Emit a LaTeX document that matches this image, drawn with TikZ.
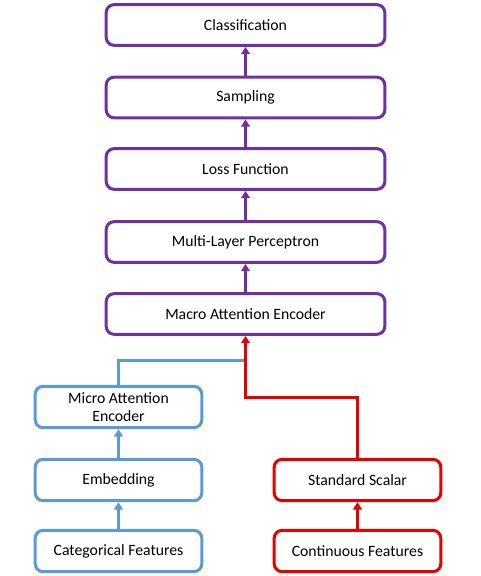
\documentclass[tikz,border=0pt]{standalone}
\usepackage{fontspec}
\setmainfont{Carlito}
\usetikzlibrary{arrows.meta}
\definecolor{purp}{RGB}{112,48,160}
\definecolor{blu}{RGB}{91,155,213}
\definecolor{rd}{RGB}{230,0,0}
\begin{document}
\begin{tikzpicture}[x=0.75pt, y=-0.75pt,
        box/.style = {draw, line width=2.25pt, rounded corners=6pt, fill=white,
            align=center, font=\fontsize{11.8}{14}\selectfont, inner sep=0pt},
        wide/.style = {box, draw=purp, minimum width=209pt, minimum height=30.5pt},
        small/.style = {box, minimum width=125pt, minimum height=31pt},
        link/.style = {line width=2.25pt, -{Triangle[length=5.5pt, width=6.5pt]}}]
        \useasboundingbox (0, 0) rectangle (480, 576);
        % purple column
        \node [wide] (cls) at (245.5, 25) {Classification};
        \node [wide] (smp) at (245.5, 97.5) {Sampling};
        \node [wide] (loss) at (245.5, 169) {Loss Function};
        \node [wide] (mlp) at (245.5, 242) {Multi-Layer Perceptron};
        \node [wide] (macro) at (245.5, 314) {Macro Attention Encoder};
        % blue column
        \node [small, draw=blu] (micro) at (118.5, 407) {Micro Attention\\Encoder};
        \node [small, draw=blu] (emb) at (118.5, 480) {Embedding};
        \node [small, draw=blu] (cat) at (118.5, 551) {Categorical Features};
        % red column
        \node [small, draw=rd] (scal) at (357.5, 480) {Standard Scalar};
        \node [small, draw=rd] (cont) at (357.5, 551) {Continuous Features};
        \coordinate (join) at (245.5, 360);
        \coordinate (bend) at (245.5, 397);
        \draw [link, purp] (smp) -- (cls);
        \draw [link, purp] (loss) -- (smp);
        \draw [link, purp] (mlp) -- (loss);
        \draw [link, purp] (macro) -- (mlp);
        \draw [link, blu] (emb) -- (micro);
        \draw [link, blu] (cat) -- (emb);
        \draw [link, rd] (cont) -- (scal);
        \draw [line width=2.25pt, blu] (micro.north) |- (join);
        \draw [link, rd] (scal.north) |- (bend) -- (macro.south);
    \end{tikzpicture}
\end{document}
